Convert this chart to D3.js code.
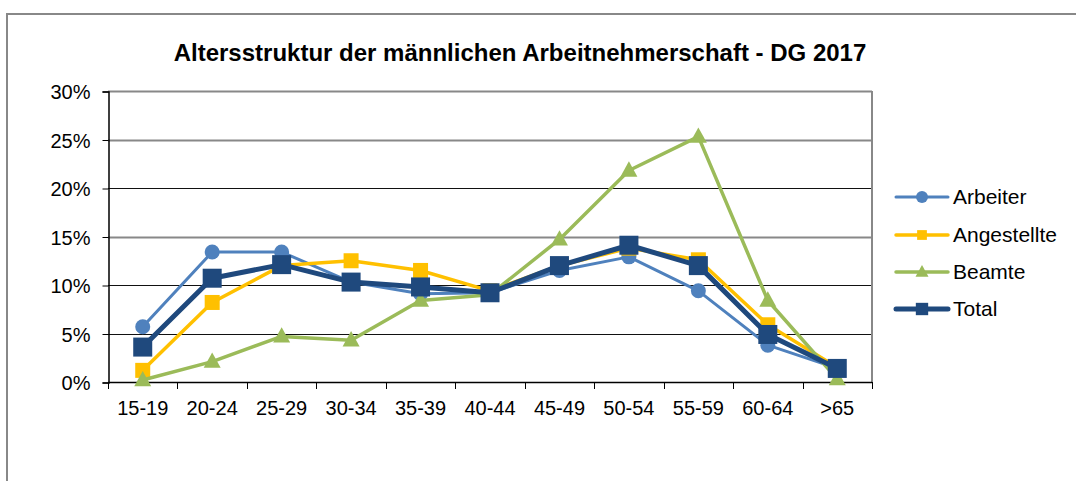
<!DOCTYPE html>
<meta charset="utf-8">
<style>
body { margin: 0; background: #fff; }
text { font-family: "Liberation Sans", Arial, sans-serif; fill: #000; }
</style>
<svg width="1076" height="481"></svg>
<script src="https://cdn.jsdelivr.net/npm/d3@7"></script>
<script>
var categories = ["15-19", "20-24", "25-29", "30-34", "35-39", "40-44", "45-49", "50-54", "55-59", "60-64", ">65"];
var arbeiter    = [5.7, 13.4, 13.4, 10.3, 9.1, 9.2, 11.5, 12.9, 9.4, 3.8, 1.4];
var angestellte = [1.2, 8.2, 12.0, 12.5, 11.5, 9.4, 12.0, 13.8, 12.6, 5.9, 1.5];
var beamte      = [0.2, 2.1, 4.7, 4.3, 8.4, 9.0, 14.7, 21.8, 25.3, 8.4, 0.3];
var total       = [3.6, 10.7, 12.1, 10.3, 9.8, 9.2, 12.0, 14.1, 12.0, 4.9, 1.4];
var yTicks = [0, 5, 10, 15, 20, 25, 30];

var series = [
  {name: "Arbeiter", values: arbeiter, color: "#4F81BD", width: 3, marker: "circle", size: 7.5},
  {name: "Angestellte", values: angestellte, color: "#FFC000", width: 3.5, marker: "square", size: 15},
  {name: "Beamte", values: beamte, color: "#9BBB59", width: 3.5, marker: "triangle", size: 17},
  {name: "Total", values: total, color: "#1F497D", width: 5, marker: "square", size: 19}
];

var svg = d3.select("svg");

// outer chart frame
svg.append("path")
    .attr("d", "M7,481V14H1076")
    .attr("fill", "none")
    .attr("stroke", "#888")
    .attr("stroke-width", 2);

svg.append("text")
    .attr("x", 520).attr("y", 61)
    .attr("text-anchor", "middle")
    .style("font-size", "24px").style("font-weight", "bold")
    .text("Altersstruktur der männlichen Arbeitnehmerschaft - DG 2017");

var plotLeft = 108, plotRight = 872, plotTop = 91, plotBottom = 382;

var x = d3.scaleBand().domain(categories).range([plotLeft, plotRight]);
var y = d3.scaleLinear().domain([0, 30]).range([plotBottom, plotTop]);

// gridlines
svg.append("g").selectAll("line")
  .data(yTicks.slice(1))
  .enter().append("line")
    .attr("x1", plotLeft).attr("x2", plotRight)
    .attr("y1", function(d) { return Math.round(y(d)) + 0.5; })
    .attr("y2", function(d) { return Math.round(y(d)) + 0.5; })
    .attr("stroke", function(d) { return (d == 30 || d == 25 || d == 15) ? "#888" : "#111"; })
    .attr("stroke-width", function(d) { return (d == 30 || d == 25 || d == 15) ? 2 : 1; });

// plot border right
svg.append("line")
    .attr("x1", plotRight).attr("x2", plotRight).attr("y1", plotTop).attr("y2", plotBottom)
    .attr("stroke", "#888").attr("stroke-width", 2);

var yAxis = svg.append("g")
    .attr("transform", "translate(" + (plotLeft + 0.5) + ",0.5)")
    .call(d3.axisLeft(y).tickValues(yTicks).tickSize(6).tickPadding(12)
      .tickFormat(function(d) { return d + "%"; }));
yAxis.select(".domain").attr("stroke", "#000").attr("stroke-width", 1.5);
yAxis.selectAll("text").style("font-size", "20px").attr("dy", "0.35em")
    .style("font-family", "'Liberation Sans', Arial, sans-serif");

var xAxis = svg.append("g")
    .attr("transform", "translate(0," + (plotBottom + 0.5) + ")")
    .call(d3.axisBottom(x).tickSize(0).tickPadding(18));
xAxis.select(".domain").remove();
xAxis.selectAll("text").style("font-size", "20px")
    .style("font-family", "'Liberation Sans', Arial, sans-serif");
// ticks at band boundaries
svg.append("line")
    .attr("x1", plotLeft).attr("x2", plotRight).attr("y1", plotBottom + 0.5).attr("y2", plotBottom + 0.5)
    .attr("stroke", "#000").attr("stroke-width", 1.5);
svg.append("g").selectAll("line")
  .data(d3.range(categories.length + 1))
  .enter().append("line")
    .attr("x1", function(i) { return Math.round(plotLeft + i * x.bandwidth()) + 0.5; })
    .attr("x2", function(i) { return Math.round(plotLeft + i * x.bandwidth()) + 0.5; })
    .attr("y1", plotBottom).attr("y2", plotBottom + 7)
    .attr("stroke", "#000");

function drawMarker(g, s, cx, cy) {
  if (s.marker == "circle") {
    g.append("circle").attr("cx", cx).attr("cy", cy).attr("r", s.size).attr("fill", s.color);
  } else if (s.marker == "square") {
    g.append("rect").attr("x", cx - s.size / 2).attr("y", cy - s.size / 2)
      .attr("width", s.size).attr("height", s.size).attr("fill", s.color);
  } else {
    var h = s.size * 0.9, w = s.size;
    g.append("path")
      .attr("d", "M" + cx + "," + (cy - h * 0.6) + "L" + (cx + w / 2) + "," + (cy + h * 0.4) + "L" + (cx - w / 2) + "," + (cy + h * 0.4) + "Z")
      .attr("fill", s.color);
  }
}

var line = d3.line()
    .x(function(d, i) { return x(categories[i]) + x.bandwidth() / 2; })
    .y(function(d) { return y(d); });

series.forEach(function(s) {
  var g = svg.append("g");
  g.append("path")
      .attr("d", line(s.values))
      .attr("fill", "none")
      .attr("stroke", s.color)
      .attr("stroke-width", s.width)
      .attr("stroke-linejoin", "round");
  s.values.forEach(function(v, i) {
    drawMarker(g, s, x(categories[i]) + x.bandwidth() / 2, y(v));
  });
});

// legend
var legendY = [197, 235, 272, 309];
series.forEach(function(s, i) {
  var g = svg.append("g");
  g.append("line")
      .attr("x1", 896).attr("x2", 948)
      .attr("y1", legendY[i]).attr("y2", legendY[i])
      .attr("stroke", s.color).attr("stroke-width", s.width)
      .attr("stroke-linecap", "round");
  var ls = Object.assign({}, s, {size: s.marker == "circle" ? 6 : (s.marker == "triangle" ? 13 : s.size * 0.65)});
  drawMarker(g, ls, 922, legendY[i]);
  g.append("text")
      .attr("x", 953).attr("y", legendY[i]).attr("dy", "0.35em")
      .style("font-size", "21px")
      .text(s.name);
});
</script>
